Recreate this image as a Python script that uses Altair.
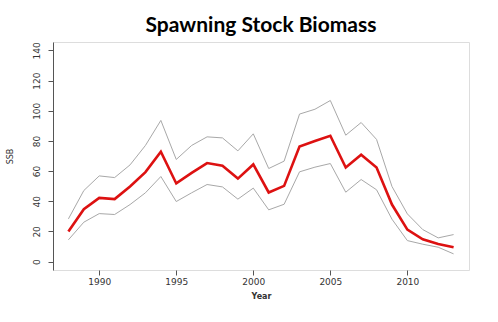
import altair as alt
import pandas as pd

years = list(range(1988, 2014))
ssb = [20.0, 34.7, 42.2, 41.4, 49.8, 59.3, 72.8, 51.8, 58.8, 65.3, 63.5, 55.0, 64.4,
       45.8, 50.2, 76.3, 79.9, 83.4, 62.4, 70.8, 62.4, 37.8, 21.2, 14.8, 11.7, 9.5]
upper = [28.3, 47.1, 56.8, 55.7, 64.1, 77.0, 93.6, 67.7, 77.0, 82.7, 82.0, 73.4, 84.7,
         61.7, 66.6, 97.8, 101.0, 106.8, 83.8, 92.2, 81.0, 49.8, 31.6, 21.2, 15.7, 17.9]
lower = [14.4, 26.1, 31.8, 31.2, 37.8, 45.6, 56.4, 39.8, 45.6, 51.1, 49.5, 41.4, 48.7,
         34.3, 38.0, 59.5, 62.6, 65.0, 46.0, 54.4, 47.6, 28.1, 13.9, 11.5, 9.5, 5.1]
x_ticks = [1990, 1995, 2000, 2005, 2010]
y_ticks = [0, 20, 40, 60, 80, 100, 120, 140]

df = pd.DataFrame({"Year": years, "SSB": ssb, "Upper": upper, "Lower": lower})

x = alt.X("Year:Q", scale=alt.Scale(domain=[1987, 2014], nice=False, zero=False),
          axis=alt.Axis(values=x_ticks, format="d", title="Year", grid=False, domain=False,
                        tickSize=5, tickColor="#555", labelPadding=2, labelFontSize=9,
                        labelColor="#333", labelFont="DejaVu Sans",
                        titleFont="DejaVu Sans", titleFontSize=8, titleFontWeight="bold",
                        titleColor="#333", titlePadding=6))
yscale = alt.Scale(domain=[-5.6, 145.6], nice=False, zero=False)
yaxis = alt.Axis(values=y_ticks, title="SSB", grid=False, domain=True, domainColor="#555",
                 tickSize=5, tickColor="#555", labelAngle=270, labelAlign="center",
                 labelBaseline="middle", labelPadding=12, labelFontSize=9,
                 labelColor="#333", labelFont="DejaVu Sans",
                 titleFont="DejaVu Sans", titleFontSize=8, titleFontWeight="normal",
                 titleColor="#333", titleAngle=270, titleX=-43, titleY=114,
                 titleAlign="center", titleBaseline="middle")

base = alt.Chart(df)
up = base.mark_line(color="#a8a8a8", strokeWidth=1).encode(x=x, y=alt.Y("Upper:Q", scale=yscale, axis=yaxis))
lo = base.mark_line(color="#a8a8a8", strokeWidth=1).encode(x=x, y=alt.Y("Lower:Q", scale=yscale, axis=yaxis))
mid = base.mark_line(color="#dd1111", strokeWidth=2.6).encode(x=x, y=alt.Y("SSB:Q", scale=yscale, axis=yaxis))

chart = alt.layer(up, lo, mid).properties(
    width=416, height=228,
    title=alt.TitleParams("Spawning Stock Biomass", font="Lato", fontSize=21,
                          fontWeight="bold", color="#000", anchor="middle",
                          baseline="alphabetic", offset=9, dy=20),
    autosize=alt.AutoSizeParams(type="none"),
    padding={"left": 53, "top": 42, "right": 29, "bottom": 52},
).configure_view(stroke="#555", strokeWidth=1).configure(background="white")

chart.save("out.html", embed_options={"renderer": "svg", "actions": False})
